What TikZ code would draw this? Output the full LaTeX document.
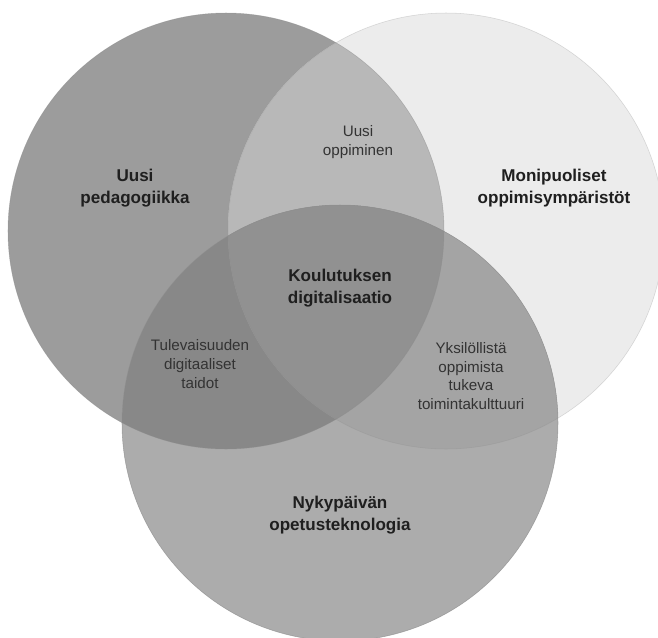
\documentclass[tikz,border=0pt]{standalone}
\usepackage{fontspec}
\setmainfont{Liberation Sans}
\begin{document}
\begin{tikzpicture}[x=0.75pt,y=-0.75pt,
  ring/.style={draw=black!45,line width=0.4pt},
  head/.style={font=\fontsize{12.8pt}{16.2pt}\selectfont\bfseries,text=black!88,align=center,inner sep=0pt},
  sub/.style={font=\fontsize{11.4pt}{14.1pt}\selectfont,text=black!80,align=center,inner sep=0pt}]
\def\rr{163.5pt}
\clip (0,0) rectangle (658,637);
\fill[white] (0,0) rectangle (658,637);
\coordinate (cL) at (226,231);
\coordinate (cR) at (446,231);
\coordinate (cB) at (340,423);
% single circles
\fill[fill={rgb,255:red,156;green,156;blue,156}] (cL) circle[radius=\rr];
\fill[fill={rgb,255:red,236;green,236;blue,236}] (cR) circle[radius=\rr];
\fill[fill={rgb,255:red,172;green,172;blue,172}] (cB) circle[radius=\rr];
% pairwise overlaps
\begin{scope}
  \clip (cL) circle[radius=\rr];
  \fill[fill={rgb,255:red,184;green,184;blue,184}] (cR) circle[radius=\rr];
  \fill[fill={rgb,255:red,136;green,136;blue,136}] (cB) circle[radius=\rr];
\end{scope}
\begin{scope}
  \clip (cR) circle[radius=\rr];
  \fill[fill={rgb,255:red,164;green,164;blue,164}] (cB) circle[radius=\rr];
\end{scope}
% common core
\begin{scope}
  \clip (cL) circle[radius=\rr];
  \clip (cR) circle[radius=\rr];
  \fill[fill={rgb,255:red,145;green,145;blue,145}] (cB) circle[radius=\rr];
\end{scope}
% outlines
\draw[ring,draw opacity=0.5] (cL) circle[radius=\rr];
\draw[ring,draw opacity=0.3] (cR) circle[radius=\rr];
\draw[ring,draw opacity=0.7] (cB) circle[radius=\rr];
% labels
\node[head] (pedagogiikka) at (135,188) {Uusi\\pedagogiikka};
\node[head] (ymparistot) at (554,188) {Monipuoliset\\oppimisympäristöt};
\node[head] (teknologia) at (340,515) {Nykypäivän\\opetusteknologia};
\node[head] (digitalisaatio) at (340,288) {Koulutuksen\\digitalisaatio};
\node[sub] (oppiminen) at (358,142) {Uusi\\oppiminen};
\node[sub] (taidot) at (200,364) {Tulevaisuuden\\digitaaliset\\taidot};
\node[sub] (kulttuuri) at (471,376) {Yksilöllistä\\oppimista\\tukeva\\toimintakulttuuri};
\end{tikzpicture}
\end{document}
